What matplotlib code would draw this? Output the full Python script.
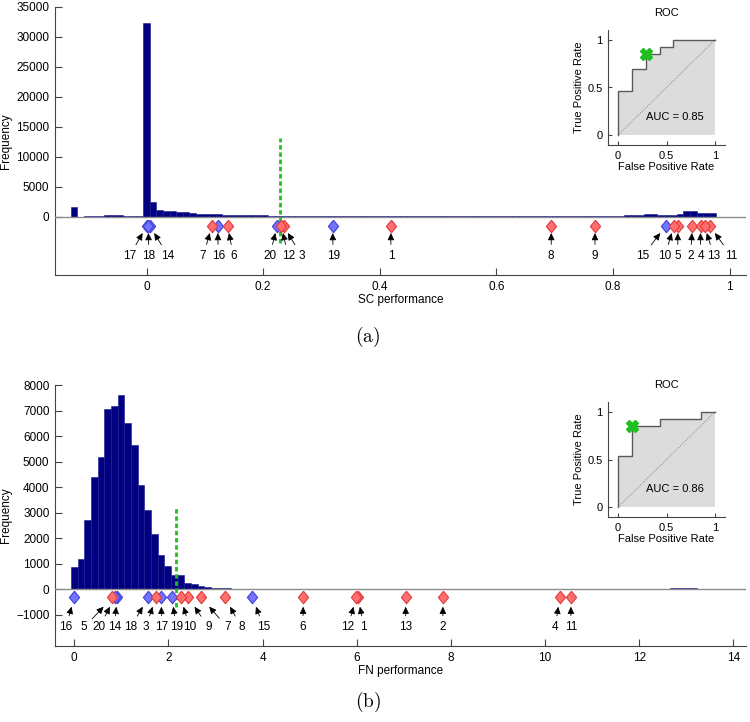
import numpy as np
import matplotlib
matplotlib.use("Agg")
import matplotlib.pyplot as plt

plt.rcParams["font.family"] = ["Liberation Sans", "DejaVu Sans"]
plt.rcParams["mathtext.fontset"] = "cm"
plt.rcParams["font.size"] = 8

# Colors
NAVY = "#000080"
NAVY_EDGE = "#1a1a90"
RED_FACE, RED_EDGE = "#ff6f6f", "#e03a3a"
BLUE_FACE, BLUE_EDGE = "#7373ff", "#3f3fd6"
GREEN = "#1fbf1f"
AXIS = "#444444"

# ---------------- panel (a): SC performance ----------------
sc_bin_lo, sc_bin_hi, sc_nbins = -0.130, 0.977, 98
sc_counts = [
    1620, 30, 50, 60, 50, 280, 250, 200, 80, 60,
    60, 32200, 2400, 1150, 950, 900, 800, 700, 600, 520,
    460, 400, 370, 340, 310, 280, 260, 240, 220, 200,
    190, 180, 170, 160, 150, 150, 140, 140, 130, 130,
    120, 120, 110, 110, 100, 100, 60, 100, 100, 90,
    90, 100, 90, 60, 90, 100, 100, 90, 60, 90,
    100, 90, 100, 110, 100, 60, 100, 110, 120, 120,
    110, 60, 120, 130, 130, 140, 140, 130, 140, 150,
    150, 160, 170, 180, 200, 220, 250, 450, 500, 300,
    280, 350, 380, 900, 950, 600, 550, 650,
]
sc_ids = list(range(1, 21))
sc_values = [0.419, 0.936, 0.235, 0.950, 0.911, 0.139, 0.112, 0.694, 0.769, 0.904,
             0.966, 0.231, 0.957, 0.006, 0.890, 0.122, 0.000, 0.003, 0.319, 0.224]
sc_label_x = [0.419, 0.933, 0.266, 0.950, 0.911, 0.149, 0.097, 0.694, 0.769, 0.889,
              1.003, 0.243, 0.973, 0.037, 0.851, 0.123, -0.029, 0.004, 0.320, 0.211]
sc_threshold = 0.229
sc_roc_fpr = [0.0, 0.143, 0.286, 0.429, 0.571, 1.0]
sc_roc_tpr = [0.0, 0.462, 0.692, 0.846, 0.923, 1.0]
sc_roc_point = (0.286, 0.846)
sc_auc = 0.85

# ---------------- panel (b): FN performance ----------------
fn_bin_lo, fn_bin_hi, fn_nbins = -0.07, 14.08, 100
fn_counts = [
    890, 1190, 2725, 4400, 5190, 7050, 7180, 7615, 6530, 5635,
    4076, 3093, 2162, 1324, 930, 563, 563, 236, 210, 144,
    105, 70, 50, 40, 30, 20, 15, 10, 8, 5,
    3, 2, 0, 0, 0, 0, 0, 0, 0, 0,
    0, 0, 0, 0, 0, 0, 0, 0, 0, 0,
    0, 0, 0, 0, 0, 0, 0, 0, 0, 0,
    0, 0, 0, 0, 0, 0, 0, 0, 0, 0,
    0, 0, 0, 0, 0, 0, 0, 0, 0, 0,
    0, 0, 0, 0, 0, 0, 0, 0, 0, 0,
    40, 50, 60, 40, 30, 0, 0, 0, 0, 0,
]
fn_ids = list(range(1, 21))
fn_values = [6.03, 7.83, 1.73, 10.31, 0.81, 4.86, 2.69, 3.20, 2.42, 2.26,
             10.55, 5.99, 7.04, 0.91, 3.78, 0.00, 1.85, 1.57, 2.07, 0.86]
fn_label_x = [6.15, 7.83, 1.52, 10.22, 0.21, 4.86, 3.25, 3.55, 2.85, 2.45,
              10.55, 5.81, 7.04, 0.85, 4.03, -0.18, 1.85, 1.20, 2.17, 0.53]
fn_threshold = 2.17
fn_roc_fpr = [0.0, 0.143, 0.429, 0.857, 1.0]
fn_roc_tpr = [0.0, 0.538, 0.846, 0.923, 1.0]
fn_roc_point = (0.143, 0.846)
fn_auc = 0.86

W, H = 750, 722


def rect(left, top, right, bottom):
    return [left / W, 1 - bottom / H, (right - left) / W, (bottom - top) / H]


def style_axes(ax, size=8.5):
    for s in ("top", "right"):
        ax.spines[s].set_visible(False)
    for s in ("left", "bottom"):
        ax.spines[s].set_color(AXIS)
        ax.spines[s].set_linewidth(0.8)
    ax.tick_params(direction="in", length=5, width=0.8, color=AXIS,
                   labelsize=size, pad=4)


def main_panel(ax, lo, hi, nbins, counts, ids, values, label_x, thr,
               xlim, ylim, xticks, xticklabels, yticks, xlabel,
               y_diam, y_head, y_text, thr_top, thr_bot):
    edges = np.linspace(lo, hi, nbins + 1)
    w = edges[1] - edges[0]
    ax.bar(edges[:-1], counts, width=w, align="edge", color=NAVY,
           edgecolor=NAVY_EDGE, linewidth=0.4, zorder=2)
    ax.axhline(0, color="#8c8c8c", lw=1.0, zorder=3)
    ax.plot([thr, thr], [thr_bot, thr_top], color=GREEN, lw=2.0,
            dashes=(1.6, 1.0), zorder=4)

    for i, v, lx in zip(ids, values, label_x):
        t = (y_text - y_head) / (y_text - y_diam)
        hx = lx + (v - lx) * t
        ax.annotate(str(i), xy=(hx, y_head), xytext=(lx, y_text),
                    ha="center", va="center", fontsize=8.5, zorder=5,
                    arrowprops=dict(arrowstyle="-|>,head_length=0.42,head_width=0.2",
                                    color="k", lw=0.6, shrinkA=2.0, shrinkB=0,
                                    mutation_scale=10))
    diamond = [(0, 1), (0.82, 0), (0, -1), (-0.82, 0), (0, 1)]
    blue = [v for i, v in zip(ids, values) if i >= 14]
    red = [v for i, v in zip(ids, values) if i < 14]
    ax.plot(blue, [y_diam] * len(blue), ls="none", marker=diamond, ms=9,
            mfc=BLUE_FACE, mec=BLUE_EDGE, mew=0.8, zorder=6)
    ax.plot(red, [y_diam] * len(red), ls="none", marker=diamond, ms=9,
            mfc=RED_FACE, mec=RED_EDGE, mew=0.8, zorder=7)

    ax.set_xlim(*xlim)
    ax.set_ylim(*ylim)
    ax.set_xticks(xticks)
    ax.set_xticklabels(xticklabels)
    ax.set_yticks(yticks)
    ax.set_xlabel(xlabel, fontsize=8.5, labelpad=1)
    ax.set_ylabel("Frequency", fontsize=8.5, labelpad=3)
    style_axes(ax)


def roc_inset(ax, fpr, tpr, point, auc_val):
    ax.fill_between(fpr, tpr, 0, step="pre", color="#dcdcdc", lw=0, zorder=1)
    ax.plot(fpr, tpr, drawstyle="steps-pre", color="#5a5a5a", lw=1.0, zorder=2)
    ax.plot([0, 1], [0, 1], color="#808080", lw=0.7, ls=(0, (1, 1.5)), zorder=2)
    ax.plot([point[0]], [point[1]], marker="X", ms=9, color=GREEN,
            mec=GREEN, zorder=3)
    ax.text(0.29, 0.19, f"AUC = {auc_val:.2f}", fontsize=8, va="center")
    ax.set_xlim(-0.1, 1.1)
    ax.set_ylim(-0.1, 1.1)
    ax.set_xticks([0, 0.5, 1])
    ax.set_xticklabels(["0", "0.5", "1"])
    ax.set_yticks([0, 0.5, 1])
    ax.set_yticklabels(["0", "0.5", "1"])
    ax.set_xlabel("False Positive Rate", fontsize=8, labelpad=1)
    ax.set_ylabel("True Positive Rate", fontsize=8, labelpad=2)
    ax.set_title("ROC", fontsize=8, pad=10)
    style_axes(ax, size=8)
    ax.tick_params(length=3)


fig = plt.figure(figsize=(7.5, 7.22), dpi=100)

ax_a = fig.add_axes(rect(55, 6.7, 746, 275))
main_panel(ax_a, sc_bin_lo, sc_bin_hi, sc_nbins, sc_counts, sc_ids, sc_values,
           sc_label_x, sc_threshold,
           xlim=(-0.157, 1.028), ylim=(-9720, 35000),
           xticks=[0, 0.2, 0.4, 0.6, 0.8, 1],
           xticklabels=["0", "0.2", "0.4", "0.6", "0.8", "1"],
           yticks=list(range(0, 35001, 5000)), xlabel="SC performance",
           y_diam=-1550, y_head=-2720, y_text=-6550,
           thr_top=13100, thr_bot=-4380)

ax_b = fig.add_axes(rect(55, 385, 746, 646))
main_panel(ax_b, fn_bin_lo, fn_bin_hi, fn_nbins, fn_counts, fn_ids, fn_values,
           fn_label_x, fn_threshold,
           xlim=(-0.41, 14.27), ylim=(-2220, 8000),
           xticks=list(range(0, 15, 2)),
           xticklabels=[str(v) for v in range(0, 15, 2)],
           yticks=list(range(-1000, 8001, 1000)), xlabel="FN performance",
           y_diam=-313, y_head=-681, y_text=-1488,
           thr_top=3225, thr_bot=-690)

ins_a = fig.add_axes(rect(608, 30, 725, 145))
roc_inset(ins_a, sc_roc_fpr, sc_roc_tpr, sc_roc_point, sc_auc)
ins_b = fig.add_axes(rect(608, 402, 725, 517))
roc_inset(ins_b, fn_roc_fpr, fn_roc_tpr, fn_roc_point, fn_auc)

fig.text(368 / W, 1 - 337 / H, r"$\mathrm{(a)}$", fontsize=14,
         ha="center", va="center")
fig.text(368 / W, 1 - 702 / H, r"$\mathrm{(b)}$", fontsize=14,
         ha="center", va="center")

fig.savefig("out.png", dpi=100, facecolor="white")
